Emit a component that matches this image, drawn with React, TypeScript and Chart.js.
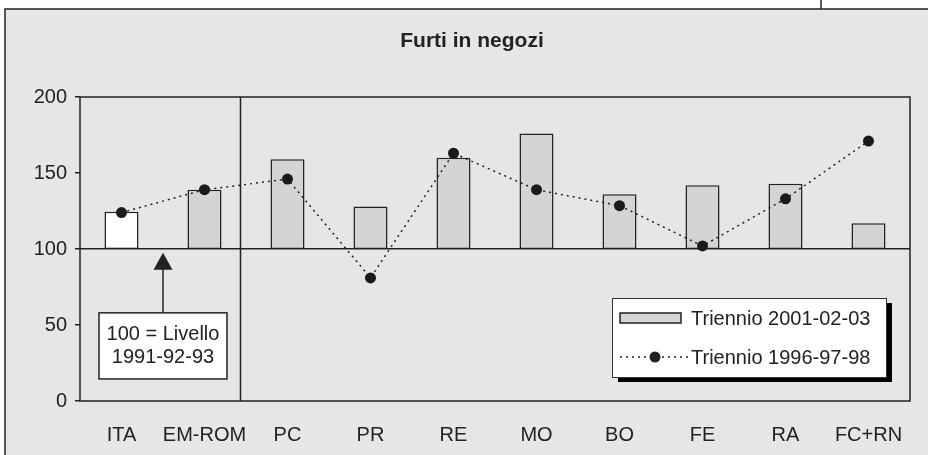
import React, { useEffect, useRef } from "react";
import { Chart, registerables } from "chart.js";

Chart.register(...registerables);

const chartTitle = "Furti in negozi";
const categories = ["ITA", "EM-ROM", "PC", "PR", "RE", "MO", "BO", "FE", "RA", "FC+RN"];
const baseLevel = 100;
const triennio2001 = [124.5, 139, 159, 128, 160, 176, 136, 142, 143, 117];
const triennio1996 = [124, 139, 146, 81, 163, 139, 128.5, 102, 133, 171];
const seriesLabels = ["Triennio 2001-02-03", "Triennio 1996-97-98"];
const yTickValues = [0, 50, 100, 150, 200];
const noteLines = ["100 = Livello", "1991-92-93"];

const BG = "#e5e6e8";
const INK = "#222222";
const BAR_GRAY = "#d3d4d6";
const FONT = "'Liberation Sans', Arial, Helvetica, sans-serif";

const decorPlugin = {
  id: "decor",
  beforeDraw(chart: any) {
    const { ctx, width, height } = chart;
    ctx.save();
    ctx.fillStyle = "#ffffff";
    ctx.fillRect(0, 0, width, height);
    ctx.fillStyle = BG;
    ctx.fillRect(5, 9, width, height);
    ctx.strokeStyle = INK;
    ctx.lineWidth = 1.5;
    ctx.beginPath();
    ctx.moveTo(5, height + 5);
    ctx.lineTo(5, 9);
    ctx.lineTo(width + 5, 9);
    ctx.stroke();
    ctx.beginPath();
    ctx.moveTo(821, 0);
    ctx.lineTo(821, 9);
    ctx.stroke();
    // title
    ctx.fillStyle = INK;
    ctx.font = `bold 21px ${FONT}`;
    ctx.textAlign = "center";
    ctx.textBaseline = "alphabetic";
    ctx.fillText(chartTitle, 472, 47);
    ctx.restore();
  },
  beforeDatasetsDraw(chart: any) {
    const { ctx, chartArea, scales } = chart;
    const x = scales.x;
    ctx.save();
    ctx.strokeStyle = INK;
    ctx.lineWidth = 1.5;
    ctx.strokeRect(chartArea.left, chartArea.top, chartArea.right - chartArea.left, chartArea.bottom - chartArea.top);
    const sepX = Math.round(x.getPixelForValue(1.43)) + 0.5;
    ctx.beginPath();
    ctx.moveTo(sepX, chartArea.top);
    ctx.lineTo(sepX, chartArea.bottom);
    ctx.stroke();
    ctx.restore();
  },
  afterDatasetsDraw(chart: any) {
    const { ctx, chartArea, scales } = chart;
    const x = scales.x;
    const y = scales.y;
    ctx.save();
    // annotation arrow + box
    const cx = x.getPixelForValue(0.5);
    const boxTop = y.getPixelForValue(58);
    const boxBottom = y.getPixelForValue(14.5);
    const boxW = 128;
    const tipY = y.getPixelForValue(97.5);
    ctx.strokeStyle = INK;
    ctx.fillStyle = INK;
    ctx.lineWidth = 1.5;
    ctx.beginPath();
    ctx.moveTo(cx, boxTop);
    ctx.lineTo(cx, tipY + 14);
    ctx.stroke();
    ctx.beginPath();
    ctx.moveTo(cx, tipY);
    ctx.lineTo(cx - 9.5, tipY + 17);
    ctx.lineTo(cx + 9.5, tipY + 17);
    ctx.closePath();
    ctx.fill();
    ctx.fillStyle = "#ffffff";
    ctx.fillRect(cx - boxW / 2, boxTop, boxW, boxBottom - boxTop);
    ctx.strokeRect(cx - boxW / 2, boxTop, boxW, boxBottom - boxTop);
    ctx.fillStyle = INK;
    ctx.font = `20px ${FONT}`;
    ctx.textAlign = "center";
    ctx.textBaseline = "middle";
    const mid = (boxTop + boxBottom) / 2;
    ctx.fillText(noteLines[0], cx, mid - 11);
    ctx.fillText(noteLines[1], cx, mid + 12);

    // legend box
    const lw = 274;
    const lh = 79;
    const lx = chartArea.right - 24 - lw;
    const ly = chartArea.bottom - 24 - lh;
    ctx.fillStyle = "#000000";
    ctx.fillRect(lx + 6, ly + 5, lw, lh);
    ctx.fillStyle = "#ffffff";
    ctx.fillRect(lx, ly, lw, lh);
    ctx.strokeStyle = "#333333";
    ctx.lineWidth = 1;
    ctx.strokeRect(lx + 0.5, ly + 0.5, lw, lh);
    const ds = chart.data.datasets;
    const barDs = ds.find((d: any) => d.type === "bar");
    const lineDs = ds.find((d: any) => d.type === "line");
    // bar item
    const r1 = ly + 20;
    ctx.fillStyle = BAR_GRAY;
    ctx.strokeStyle = INK;
    ctx.lineWidth = 1.5;
    ctx.fillRect(lx + 8, r1 - 5, 61, 10);
    ctx.strokeRect(lx + 8, r1 - 5, 61, 10);
    ctx.fillStyle = INK;
    ctx.font = `20px ${FONT}`;
    ctx.textAlign = "left";
    ctx.textBaseline = "middle";
    ctx.fillText(barDs.label, lx + 79, r1 + 1);
    // line item
    const r2 = ly + 59;
    ctx.setLineDash([2, 4]);
    ctx.beginPath();
    ctx.moveTo(lx + 8, r2);
    ctx.lineTo(lx + 76, r2);
    ctx.stroke();
    ctx.setLineDash([]);
    ctx.beginPath();
    ctx.arc(lx + 43, r2, 5.5, 0, Math.PI * 2);
    ctx.fill();
    ctx.fillText(lineDs.label, lx + 79, r2 + 1);
    ctx.restore();
  },
};

export default function App() {
  const ref = useRef<HTMLCanvasElement | null>(null);

  useEffect(() => {
    if (!ref.current) return;
    const chart = new Chart(ref.current, {
      type: "bar",
      data: {
        labels: categories,
        datasets: [
          {
            type: "line",
            label: seriesLabels[1],
            data: triennio1996,
            borderColor: INK,
            borderWidth: 1.5,
            borderDash: [2, 4],
            pointRadius: 5.5,
            pointBackgroundColor: "#1a1a1a",
            pointBorderWidth: 0,
            tension: 0,
            order: 0,
          } as any,
          {
            type: "bar",
            label: seriesLabels[0],
            data: triennio2001.map((v) => [baseLevel, v]),
            backgroundColor: triennio2001.map((_, i) => (i === 0 ? "#ffffff" : BAR_GRAY)),
            borderColor: INK,
            borderWidth: 1.5,
            borderSkipped: false,
            categoryPercentage: 1,
            barPercentage: 0.41,
            order: 1,
          } as any,
        ],
      },
      plugins: [decorPlugin],
      options: {
        animation: false,
        responsive: false,
        devicePixelRatio: 1,
        layout: { padding: { left: 0, right: 18, top: 97, bottom: 0 } },
        plugins: {
          legend: { display: false },
          title: { display: false },
          tooltip: { enabled: false },
        },
        scales: {
          x: {
            grid: { display: false, drawTicks: false },
            border: { display: false },
            ticks: {
              color: INK,
              font: { family: FONT, size: 20 },
              padding: 22,
              maxRotation: 0,
              autoSkip: false,
            },
            afterFit: (s: any) => {
              s.height = 54;
            },
          },
          y: {
            min: 0,
            max: 200,
            afterBuildTicks: (s: any) => {
              s.ticks = yTickValues.map((v) => ({ value: v }));
            },
            grid: {
              color: (c: any) => (c.tick && c.tick.value === baseLevel ? INK : "rgba(0,0,0,0)"),
              tickColor: INK,
              lineWidth: 1.5,
              drawTicks: true,
              tickLength: 5,
            },
            border: { display: false },
            ticks: {
              color: INK,
              font: { family: FONT, size: 20 },
              padding: 8,
            },
            afterFit: (s: any) => {
              s.width = 80;
            },
          },
        },
      },
    });
    return () => chart.destroy();
  }, []);

  return (
    <div style={{ position: "fixed", left: 0, top: 0, width: 928, height: 455, background: "#fff" }}>
      <canvas ref={ref} width={928} height={455} style={{ display: "block" }} />
    </div>
  );
}
